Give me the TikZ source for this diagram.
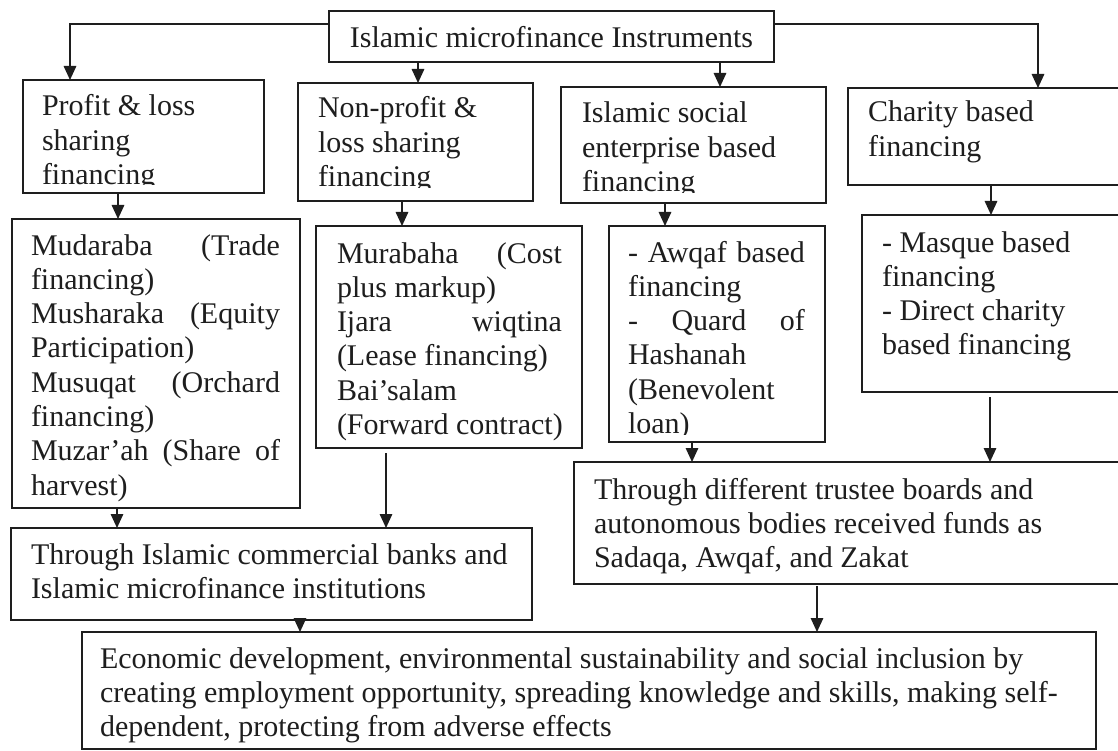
\documentclass[tikz,border=0pt]{standalone}
\usepackage{fontspec}
\setmainfont{Liberation Serif}
\usetikzlibrary{arrows.meta}
\definecolor{ink}{HTML}{1E1E1E}
\newcommand\stack[1]{\vtop{\baselineskip=34.3pt\lineskiplimit=-50pt\lineskip=0pt #1}}
\newcommand\jl[2]{\hbox to #1{#2}}
\begin{document}
\begin{tikzpicture}[x=1pt,y=-1pt,
 box/.style={draw=ink,line width=1.5pt,anchor=north west,inner sep=0pt,outer sep=0pt,rectangle},
 txt/.style={inner sep=0pt,outer sep=0pt,anchor=base west,text=ink,font=\fontsize{30}{34.3}\selectfont},
 arr/.style={draw=ink,line width=1.5pt,-{Triangle[width=12.5pt,length=14pt]}}]
\useasboundingbox (0,0) rectangle (1118,751);
\fill[white] (0,0) rectangle (1118,751);

% boxes
\node[box,minimum width=445pt,minimum height=51pt] (T) at (329,11) {};
\node[box,minimum width=241pt,minimum height=113pt] (A) at (23,80) {};
\node[box,minimum width=235pt,minimum height=118pt] (B) at (298,83) {};
\node[box,minimum width=265pt,minimum height=116pt] (C) at (561,87) {};
\node[box,minimum width=277pt,minimum height=97pt] (D) at (848,88) {};
\node[box,minimum width=288pt,minimum height=289pt] (A2) at (12,219) {};
\node[box,minimum width=266pt,minimum height=222pt] (B2) at (316,226) {};
\node[box,minimum width=216pt,minimum height=216pt] (C2) at (609,226) {};
\node[box,minimum width=263pt,minimum height=177pt] (D2) at (862,215) {};
\node[box,minimum width=521pt,minimum height=92pt] (E) at (11,528) {};
\node[box,minimum width=551pt,minimum height=122pt] (F) at (574,462) {};
\node[box,minimum width=1014pt,minimum height=117pt] (G) at (82,632) {};

% texts
\node[txt,anchor=base] (Tt) at (551.5,48) {Islamic microfinance Instruments};
\begin{scope}
\clip (A.north west) rectangle ([yshift=8pt]A.south east);
\node[txt] (At) at (42,116) {\stack{\hbox{Profit \& loss}\hbox{sharing}\hbox{financing}}};
\end{scope}
\begin{scope}
\clip (B.north west) rectangle ([yshift=13pt]B.south east);
\node[txt] (Bt) at (318,118) {\stack{\hbox{Non-profit \&}\hbox{loss sharing}\hbox{financing}}};
\end{scope}
\begin{scope}
\clip (C.north west) rectangle ([yshift=10.5pt]C.south east);
\node[txt] (Ct) at (582,123) {\stack{\hbox{Islamic social}\hbox{enterprise based}\hbox{financing}}};
\end{scope}
\node[txt] (Dt) at (868,122) {\stack{\hbox{Charity based}\hbox{financing}}};
\node[txt] (A2t) at (31,255) {\stack{%
 \jl{249pt}{Mudaraba (Trade}\hbox{financing)}%
 \jl{249pt}{Musharaka (Equity}\hbox{Participation)}%
 \jl{249pt}{Musuqat (Orchard}\hbox{financing)}%
 \jl{249pt}{Muzar’ah (Share of}\hbox{harvest)}}};
\node[txt] (B2t) at (337,263) {\stack{%
 \jl{225pt}{Murabaha (Cost}\hbox{plus markup)}%
 \jl{225pt}{Ijara wiqtina}\hbox{(Lease financing)}%
 \hbox{Bai’salam}\hbox{(Forward contract)}}};
\begin{scope}
\clip (C2.north west) rectangle ([yshift=8pt]C2.south east);
\node[txt] (C2t) at (628,262) {\stack{%
 \jl{177pt}{- Awqaf based}\hbox{financing}%
 \jl{177pt}{- Quard of}\hbox{Hashanah}%
 \hbox{(Benevolent}\hbox{loan)}}};
\end{scope}
\node[txt] (D2t) at (882,252) {\stack{%
 \hbox{- Masque based}\hbox{financing}%
 \hbox{- Direct charity}\hbox{based financing}}};
\node[txt] (Et) at (31,564) {\stack{%
 \hbox{Through Islamic commercial banks and}%
 \hbox{Islamic microfinance institutions}}};
\node[txt] (Ft) at (594,499) {\stack{%
 \hbox{Through different trustee boards and}%
 \hbox{autonomous bodies received funds as}%
 \hbox{Sadaqa, Awqaf, and Zakat}}};
\node[txt] (Gt) at (100,668) {\stack{%
 \hbox{Economic development, environmental sustainability and social inclusion by}%
 \hbox{creating employment opportunity, spreading knowledge and skills, making self-}%
 \hbox{dependent, protecting from adverse effects}}};

% connectors
\draw[arr] ([yshift=12.5pt]T.west) -| ([xshift=47pt]A.north west);
\draw[arr] ([yshift=12.5pt]T.east) -| ([xshift=190pt]D.north west);
\draw[arr] ([xshift=120pt]B.north west |- T.south) -- ([xshift=120pt]B.north west);
\draw[arr] ([xshift=159pt]C.north west |- T.south) -- ([xshift=159pt]C.north west);
\draw[arr] ([xshift=95pt]A.south west) -- ([xshift=95pt]A.south west |- A2.north);
\draw[arr] ([xshift=104pt]B.south west) -- ([xshift=104pt]B.south west |- B2.north);
\draw[arr] ([xshift=104pt]C.south west) -- ([xshift=104pt]C.south west |- C2.north);
\draw[arr] ([xshift=143pt]D.south west) -- ([xshift=143pt]D.south west |- D2.north);
\draw[arr] ([xshift=105pt]A2.south west) -- ([xshift=105pt]A2.south west |- E.north);
\draw[arr,shorten <=5pt] ([xshift=70pt]B2.south west) -- ([xshift=70pt]B2.south west |- E.north);
\draw[arr] ([xshift=83pt]C2.south west) -- ([xshift=83pt]C2.south west |- F.north);
\draw[arr,shorten <=5pt] ([xshift=128pt]D2.south west) -- ([xshift=128pt]D2.south west |- F.north);
\draw[arr] ([xshift=289pt]E.south west) -- ([xshift=289pt]E.south west |- G.north);
\draw[arr,shorten <=2pt] ([xshift=243pt]F.south west) -- ([xshift=243pt]F.south west |- G.north);
\end{tikzpicture}
\end{document}
